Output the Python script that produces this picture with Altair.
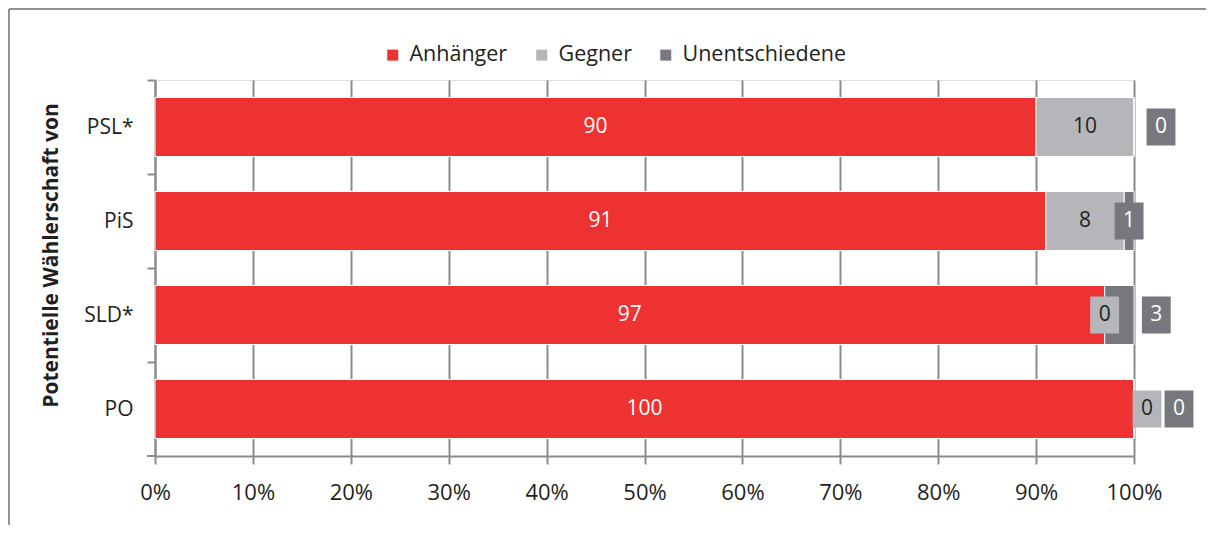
import altair as alt
import pandas as pd

categories = ["PSL*", "PiS", "SLD*", "PO"]
series = ["Anhänger", "Gegner", "Unentschiedene"]
anhaenger = [90, 91, 97, 100]
gegner = [10, 8, 0, 0]
unentschiedene = [0, 1, 3, 0]
x_ticks = [0, 10, 20, 30, 40, 50, 60, 70, 80, 90, 100]

colors = ["#EE3131", "#B4B6B9", "#77787D"]
text_dark = "#231F20"
grid_col = "#8B8C90"
FONT = "Open Sans"

rows = []
for i, c in enumerate(categories):
    start = 0
    for s, vals in zip(series, [anhaenger, gegner, unentschiedene]):
        v = vals[i]
        rows.append(dict(cat=c, series=s, value=v, start=start, end=start + v,
                         mid=start + v / 2, order=series.index(s)))
        start += v
df = pd.DataFrame(rows)

W, H = 979, 376
STEP = H / len(categories)

y_enc = alt.Y("cat:N", sort=categories, title="Potentielle Wählerschaft von",
              scale=alt.Scale(paddingInner=0.372, paddingOuter=0.186),
              axis=alt.Axis(tickOffset=-STEP / 2, labelOffset=STEP / 2, tickSize=8,
                            tickWidth=2, tickColor=grid_col,
                            domainColor=grid_col, domainWidth=2, labelFontSize=21,
                            labelColor=text_dark, labelFont=FONT, labelPadding=14,
                            titleFont=FONT, titleFontSize=21, titleFontWeight="bold",
                            titleColor=text_dark, titleAngle=270, titleX=-104, titleY=175,
                            titleAlign="center", titleBaseline="middle"))

x_scale = alt.Scale(domain=[0, 100], nice=False, zero=True)

bars = alt.Chart(df).mark_bar(stroke="white", strokeWidth=1).encode(
    x=alt.X("start:Q", scale=x_scale, title=None,
            axis=alt.Axis(values=x_ticks, labelExpr="datum.value + '%'", grid=True,
                          gridColor=grid_col, gridWidth=2, tickSize=8, tickWidth=2,
                          tickColor=grid_col, domainColor=grid_col, domainWidth=2,
                          labelFontSize=22, labelColor=text_dark, labelFont=FONT,
                          labelPadding=18, labelFlush=False, labelOverlap=False)),
    x2="end:Q",
    y=y_enc,
    color=alt.Color("series:N", sort=series,
                    scale=alt.Scale(domain=series, range=colors),
                    legend=alt.Legend(orient="none", legendX=227, legendY=-36,
                                      direction="horizontal", title=None,
                                      symbolType="square", symbolSize=121,
                                      symbolStrokeWidth=0, labelFontSize=21.5,
                                      labelFont=FONT, labelColor=text_dark, labelLimit=400,
                                      labelOffset=6, columnPadding=23, padding=0)),
    order=alt.Order("order:Q"),
)

inline = df[df["value"] >= 5]
inline_red = alt.Chart(inline[inline["series"] == "Anhänger"]).mark_text(
    font=FONT, fontSize=21, color="white").encode(
    x=alt.X("mid:Q", scale=x_scale), y=alt.Y("cat:N", sort=categories), text="value:Q")
inline_gray = alt.Chart(inline[inline["series"] != "Anhänger"]).mark_text(
    font=FONT, fontSize=21, color=text_dark).encode(
    x=alt.X("mid:Q", scale=x_scale), y=alt.Y("cat:N", sort=categories), text="value:Q")

# callout boxes for small segments (pixel offsets are layout only)
callout_offsets = {
    ("PSL*", "Unentschiedene"): 27,
    ("PiS", "Unentschiedene"): 0,
    ("SLD*", "Gegner"): 0,
    ("SLD*", "Unentschiedene"): 37,
    ("PO", "Gegner"): 13,
    ("PO", "Unentschiedene"): 45,
}
box_shape = "M-0.78,-1L0.78,-1L0.78,1L-0.78,1Z"
layers = [bars, inline_red, inline_gray]
for (cat, ser), off in callout_offsets.items():
    sub = df[(df["cat"] == cat) & (df["series"] == ser)]
    fill = colors[series.index(ser)]
    tcol = "white" if ser == "Unentschiedene" else text_dark
    box = alt.Chart(sub).mark_point(shape=box_shape, size=1369, filled=True, opacity=1,
                                    strokeWidth=0, fill=fill, xOffset=off).encode(
        x=alt.X("mid:Q", scale=x_scale), y=alt.Y("cat:N", sort=categories))
    txt = alt.Chart(sub).mark_text(font=FONT, fontSize=21, color=tcol, xOffset=off).encode(
        x=alt.X("mid:Q", scale=x_scale), y=alt.Y("cat:N", sort=categories), text="value:Q")
    layers += [box, txt]

dummy = pd.DataFrame({"a": [0]})
bottom_tick = alt.Chart(dummy).mark_rule(color=grid_col, strokeWidth=2).encode(
    x=alt.value(-8), x2=alt.value(0), y=alt.value(H))
frame_left = alt.Chart(dummy).mark_rule(color="#6d6e71", strokeWidth=1.5).encode(
    x=alt.value(-146), y=alt.value(-71), y2=alt.value(H + 80))
frame_top = alt.Chart(dummy).mark_rule(color="#6d6e71", strokeWidth=1.5).encode(
    x=alt.value(-146), x2=alt.value(W + 72), y=alt.value(-71))
layers += [bottom_tick, frame_left, frame_top]

chart = alt.layer(*layers).properties(
    width=W, height=H,
    autosize=alt.AutoSizeParams(type="none"),
    padding={"left": 147, "top": 72, "right": 73, "bottom": 69},
).configure_view(stroke=None).configure(font=FONT)

chart.save("out.html", embed_options={"renderer": "svg", "actions": False})
